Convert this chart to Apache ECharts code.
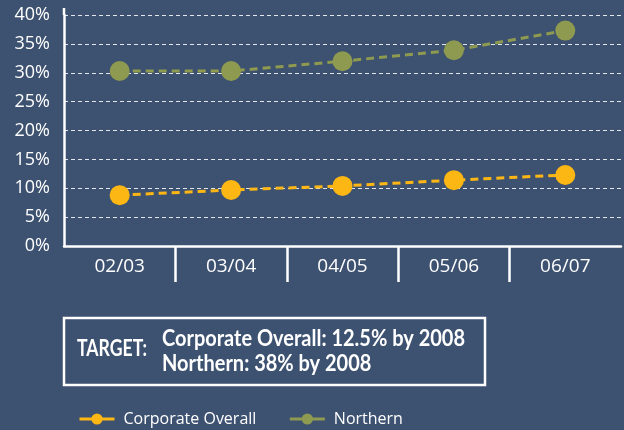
<!DOCTYPE html>
<html>
<head>
<meta charset="utf-8">
<script src="https://cdn.jsdelivr.net/npm/echarts@6/dist/echarts.min.js"></script>
<style>
  html, body { margin: 0; padding: 0; background: #3d5170; }
  #chart { width: 624px; height: 430px; }
</style>
</head>
<body>
<div id="chart"></div>
<script>
// data
const years = ['02/03', '03/04', '04/05', '05/06', '06/07'];
const corporate = [8.8, 9.7, 10.4, 11.4, 12.3];
const northern = [30.3, 30.3, 32.0, 33.9, 37.3];
const targetLabel = 'TARGET:';
const targetLines = ['Corporate Overall: 12.5% by 2008', 'Northern: 38% by 2008'];

const bg = '#3d5170';
const yellow = '#fdb714';
const olive = '#8e9a4f';
const labelFont = "'Open Sans', sans-serif";
const boldFont = "bold 23px Lato, sans-serif";

// squeeze the bold box text so it looks condensed like the original
function squeeze(text, targetWidth) {
    const ctx = document.createElement('canvas').getContext('2d');
    ctx.font = boldFont;
    return targetWidth / ctx.measureText(text).width;
}
const lineScale = squeeze(targetLines[0], 303);
const labelScale = squeeze(targetLabel, 70);

const chart = echarts.init(document.getElementById('chart'));

const option = {
    backgroundColor: bg,
    animation: false,
    grid: { left: 64, right: 3, top: 15, bottom: 184 },
    xAxis: [
        {
            type: 'category',
            data: years,
            boundaryGap: true,
            axisLine: { lineStyle: { color: '#fff', width: 2.5 } },
            axisTick: { show: false },
            axisLabel: { color: '#fff', fontSize: 19, fontFamily: labelFont, margin: 11 }
        },
        {
            // only used for the separator ticks between the categories
            type: 'value',
            position: 'bottom',
            min: 0,
            max: years.length,
            interval: 1,
            axisLine: { show: false },
            axisLabel: { show: false },
            splitLine: { show: false },
            axisTick: {
                show: true,
                length: 36,
                customValues: [1, 2, 3, 4],
                lineStyle: { color: '#fff', width: 2.5 }
            }
        }
    ],
    yAxis: {
        type: 'value',
        min: 0,
        max: 40,
        interval: 5,
        axisLine: { show: true, lineStyle: { color: '#fff', width: 2.5 } },
        axisTick: { show: false },
        axisLabel: { color: '#fff', fontSize: 18, fontFamily: labelFont, margin: 14, formatter: '{value}%' },
        splitLine: { lineStyle: { color: 'rgba(255,255,255,0.85)', width: 1, type: [4, 3] } }
    },
    legend: {
        left: 73,
        top: 406,
        itemWidth: 35,
        itemHeight: 14,
        itemGap: 32,
        lineStyle: { type: 'solid', width: 3 },
        textStyle: { color: '#fff', fontSize: 16, fontFamily: labelFont, padding: [0, 0, 0, 4] },
        data: ['Corporate Overall', 'Northern']
    },
    series: [
        {
            name: 'Corporate Overall',
            type: 'line',
            data: corporate,
            symbol: 'circle',
            symbolSize: 20,
            itemStyle: { color: yellow },
            lineStyle: { color: yellow, width: 3, type: [8, 5] }
        },
        {
            name: 'Northern',
            type: 'line',
            data: northern,
            symbol: 'circle',
            symbolSize: 20,
            itemStyle: { color: olive },
            lineStyle: { color: olive, width: 3, type: [8, 5] }
        }
    ],
    graphic: [
        // y axis line runs a little above the top gridline
        { type: 'line', shape: { x1: 64, y1: 8, x2: 64, y2: 15 }, style: { stroke: '#fff', lineWidth: 2.5 } },
        {
            type: 'rect',
            shape: { x: 64, y: 318, width: 421, height: 67 },
            style: { fill: 'none', stroke: '#fff', lineWidth: 2.5 }
        },
        {
            type: 'text',
            x: 77,
            y: 349,
            scaleX: labelScale,
            style: { text: targetLabel, fill: '#fff', font: boldFont, verticalAlign: 'middle' }
        },
        {
            type: 'text',
            x: 162,
            y: 351,
            scaleX: lineScale,
            style: { text: targetLines.join('\n'), fill: '#fff', font: boldFont, lineHeight: 25, verticalAlign: 'middle' }
        }
    ]
};

chart.setOption(option);
</script>
</body>
</html>
